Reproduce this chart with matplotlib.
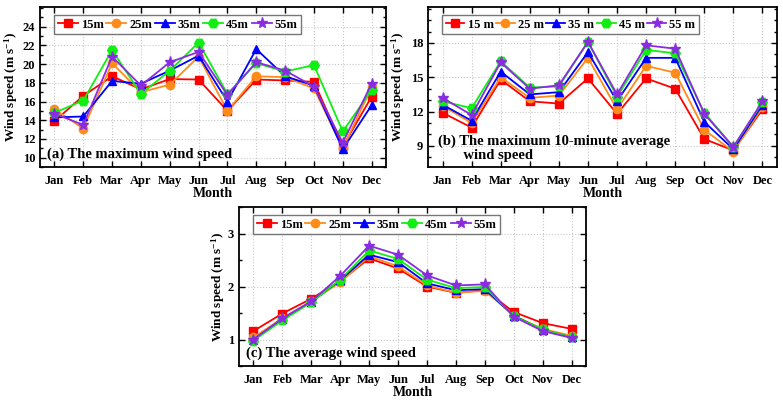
import matplotlib
matplotlib.use("Agg")
import matplotlib.pyplot as plt
from matplotlib.ticker import MultipleLocator, FixedLocator

plt.rcParams['font.family'] = ['Liberation Serif', 'DejaVu Serif']
plt.rcParams['font.weight'] = 'bold'
plt.rcParams['mathtext.fontset'] = 'custom'
plt.rcParams['mathtext.rm'] = 'Liberation Serif:bold'
plt.rcParams['mathtext.it'] = 'Liberation Serif:bold'
plt.rcParams['mathtext.bf'] = 'Liberation Serif:bold'

months = ['Jan', 'Feb', 'Mar', 'Apr', 'May', 'Jun', 'Jul', 'Aug', 'Sep', 'Oct', 'Nov', 'Dec']

# (a) maximum wind speed
a_15 = [13.9, 16.6, 18.7, 17.3, 18.4, 18.35, 15.0, 18.35, 18.25, 18.1, 11.2, 16.5]
a_25 = [15.2, 13.1, 20.1, 17.0, 17.8, 20.8, 15.0, 18.7, 18.6, 17.4, 11.0, 17.5]
a_35 = [14.3, 14.4, 18.2, 17.9, 19.3, 20.9, 16.0, 21.6, 18.7, 17.7, 10.9, 15.6]
a_45 = [14.8, 16.1, 21.5, 16.8, 19.3, 22.3, 16.8, 20.1, 19.2, 19.9, 12.8, 17.2]
a_55 = [14.7, 13.5, 20.8, 17.7, 20.2, 21.3, 16.7, 20.2, 19.3, 17.6, 11.6, 17.9]
a_yticks = [10, 12, 14, 16, 18, 20, 22, 24]

# (b) maximum 10-minute average wind speed
b_15 = [11.9, 10.6, 14.8, 12.9, 12.7, 14.9, 11.8, 14.9, 14.0, 9.6, 8.6, 12.2]
b_25 = [12.5, 11.0, 15.0, 13.2, 13.4, 16.7, 12.2, 16.0, 15.4, 10.4, 8.5, 12.4]
b_35 = [12.6, 11.2, 15.5, 13.5, 13.7, 17.2, 12.9, 16.7, 16.7, 11.1, 8.7, 12.6]
b_45 = [12.9, 12.3, 16.4, 14.1, 14.2, 18.1, 13.3, 17.4, 17.1, 11.9, 8.9, 12.8]
b_55 = [13.2, 11.7, 16.3, 14.0, 14.3, 18.1, 13.5, 17.8, 17.5, 11.8, 8.9, 12.9]
b_yticks = [9, 12, 15, 18]

# (c) average wind speed
c_15 = [1.16, 1.49, 1.77, 2.10, 2.53, 2.34, 2.00, 1.88, 1.93, 1.52, 1.31, 1.20]
c_25 = [1.04, 1.40, 1.72, 2.08, 2.57, 2.38, 2.02, 1.88, 1.92, 1.45, 1.20, 1.07]
c_35 = [1.00, 1.38, 1.71, 2.12, 2.60, 2.46, 2.06, 1.93, 1.95, 1.45, 1.18, 1.04]
c_45 = [0.98, 1.36, 1.70, 2.13, 2.68, 2.52, 2.13, 1.97, 1.99, 1.44, 1.19, 1.04]
c_55 = [1.00, 1.40, 1.72, 2.20, 2.77, 2.60, 2.21, 2.02, 2.04, 1.43, 1.16, 1.03]
c_yticks = [1, 2, 3]

colors = ['#FF0000', '#FF8C1A', '#0000FF', '#11EE11', '#8A2BE2']
markers = ['s', 'o', '^', 'H', '*']
msizes = [6, 6, 6, 7, 8]

fig = plt.figure(figsize=(7.83, 4.01), dpi=100)

def setup(ax, series, labels, ylim, yticks, minor, title, title_xy, ylab_x, leg_w):
    x = list(range(len(months)))
    for s, lab, c, m, ms in zip(series, labels, colors, markers, msizes):
        ax.plot(x, s, color=c, marker=m, markersize=ms, lw=1.3, label=lab)
    ax.set_xlim(-0.5, 11.5)
    ax.set_ylim(*ylim)
    ax.set_xticks(x)
    ax.set_xticklabels(months, fontsize=9, fontweight='bold')
    ax.yaxis.set_major_locator(FixedLocator(yticks))
    ax.yaxis.set_minor_locator(MultipleLocator(minor))
    ax.tick_params(axis='both', which='both', direction='in', top=True, right=True)
    ax.tick_params(axis='both', which='major', length=4, width=1, labelsize=9)
    ax.tick_params(axis='both', which='minor', length=2.5, width=1)
    ax.tick_params(axis='x', which='minor', bottom=False, top=False)
    ax.tick_params(axis='x', pad=6)
    for lbl in ax.get_yticklabels():
        lbl.set_fontweight('bold')
    for sp in ax.spines.values():
        sp.set_linewidth(1.3)
    ax.grid(True, which='major', ls=':', color='#c8c8c8', lw=0.8)
    ax.set_axisbelow(True)
    ax.set_ylabel('Wind speed (m s$^{-1}$)', fontsize=9.5, fontweight='bold')
    ax.yaxis.set_label_coords(ylab_x, 0.5)
    ax.set_xlabel('Month', fontsize=10, fontweight='bold', labelpad=0)
    leg = ax.legend(loc='upper left', ncol=5, frameon=True, fancybox=False,
                    edgecolor='#555555', handlelength=leg_w, handletextpad=0.25,
                    columnspacing=0.2, borderpad=0.3, borderaxespad=0.0,
                    bbox_to_anchor=(0.04, 0.95),
                    prop={'weight': 'bold', 'size': 9})
    leg.get_frame().set_linewidth(1.0)
    ax.text(title_xy[0], title_xy[1], title, transform=ax.transAxes, fontsize=10.5,
            fontweight='bold', va='bottom', ha='left', linespacing=1.15)

ax_a = fig.add_axes([40/783, 1-167/401, 346/783, 160/401])
setup(ax_a, [a_15, a_25, a_35, a_45, a_55], ['15m', '25m', '35m', '45m', '55m'],
      (9, 26.1), a_yticks, 1, '(a) The maximum wind speed', (0.02, 0.035), -0.058, 1.6)

ax_b = fig.add_axes([428/783, 1-167/401, 349/783, 160/401])
setup(ax_b, [b_15, b_25, b_35, b_45, b_55], ['15 m', '25 m', '35 m', '45 m', '55 m'],
      (7.15, 21.15), b_yticks, 1, '(b) The maximum 10-minute average\n       wind speed', (0.03, 0.03), -0.06, 1.5)

ax_c = fig.add_axes([239/783, 1-366/401, 347/783, 159/401])
setup(ax_c, [c_15, c_25, c_35, c_45, c_55], ['15m', '25m', '35m', '45m', '55m'],
      (0.5, 3.5), c_yticks, 0.5, '(c) The average wind speed', (0.02, 0.035), -0.035, 1.6)

fig.savefig('out.png', dpi=100)
